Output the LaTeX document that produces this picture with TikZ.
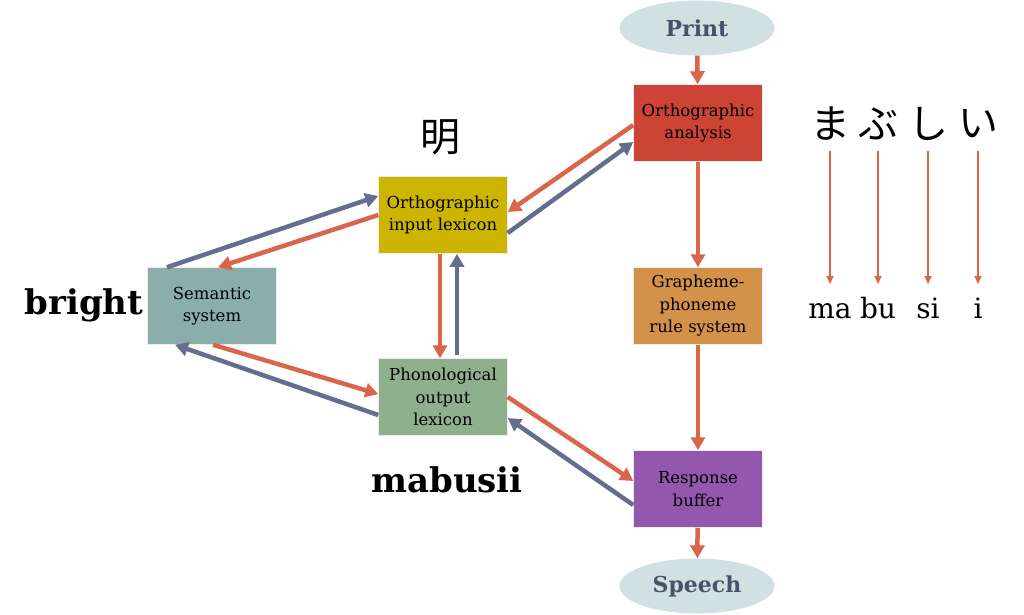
\documentclass[tikz,border=0pt]{standalone}
\usepackage{fontspec}
\setmainfont{DejaVu Serif}
\newfontfamily\jpfont{Noto Sans CJK JP}
\usepackage{xcolor}
\usetikzlibrary{shapes, positioning, arrows.meta}

\definecolor{flecharoja}{HTML}{D9654B}
\definecolor{flechaazul}{HTML}{656E8E}
\definecolor{rojoana}{HTML}{CB4435}
\definecolor{amarillo}{HTML}{CCB400}
\definecolor{verdeazul}{HTML}{8BAEAD}
\definecolor{naranja}{HTML}{D4914A}
\definecolor{verde}{HTML}{8EB08C}
\definecolor{morado}{HTML}{9457AE}
\definecolor{celeste}{HTML}{D1E0E1}
\definecolor{textoelipse}{HTML}{4A5068}

\tikzset{
  caja/.style={rectangle, minimum width=129pt, minimum height=77pt, inner sep=2pt,
    align=center, font=\fontsize{16.5}{22.5}\selectfont, draw=white!92!black, line width=0.5pt},
  elipse/.style={ellipse, fill=celeste, minimum width=155pt, minimum height=55pt,
    text=textoelipse, font=\fontsize{22}{26}\selectfont\bfseries},
  rojo/.style={draw=flecharoja, line width=4.5pt, -{Triangle[length=13pt,width=14pt]}},
  azul/.style={draw=flechaazul, line width=4.5pt, -{Triangle[length=13pt,width=14pt]}},
  fina/.style={draw=flecharoja, line width=1.3pt, -{Triangle[length=8pt,width=7pt]}},
  kana/.style={font=\jpfont\fontsize{40}{44}\selectfont},
  roma/.style={font=\fontsize{28}{32}\selectfont}
}

\begin{document}
\begin{tikzpicture}[x=1pt,y=-1pt]

\useasboundingbox (0,0) rectangle (1024,614);  % Marco de la imagen

% Entrada y salida
\node[elipse] (print) at (697,28) {Print};
\node[elipse] (speech) at (697,586) {Speech};

% Cajas del modelo
\node[caja, fill=rojoana] (oa) at (698,123) {Orthographic\\analysis};
\node[caja, fill=amarillo] (oil) at (443,215) {Orthographic\\input lexicon};
\node[caja, fill=verdeazul] (sem) at (212,306) {Semantic\\system};
\node[caja, fill=naranja] (gpc) at (698,306) {Grapheme-\\phoneme\\rule system};
\node[caja, fill=verde] (pol) at (443,397) {Phonological\\output\\lexicon};
\node[caja, fill=morado] (rb) at (698,489) {Response\\buffer};

% Ruta subléxica
\draw[rojo] (print) -- (oa);
\draw[rojo] (oa) -- (gpc);
\draw[rojo] (gpc) -- (rb);
\draw[rojo] (rb) -- (speech);

% Ruta léxica
\draw[rojo] ([yshift=-2pt]oa.west) -- ([yshift=3pt]oil.east);
\draw[azul] ([yshift=-18pt]oil.east) -- ([yshift=-19pt]oa.west);
\draw[rojo] (oil.west) -- ([xshift=6pt]sem.north);
\draw[azul] ([xshift=-45pt]sem.north) -- ([yshift=19pt]oil.west);
\draw[rojo] ([xshift=1pt]sem.south) -- ([yshift=3pt]pol.west);
\draw[azul] ([yshift=-18pt]pol.west) -- ([xshift=-37pt]sem.south);
\draw[rojo] ([xshift=-3pt]oil.south) -- ([xshift=-3pt]pol.north);
\draw[azul] ([xshift=14pt,yshift=3pt]pol.north) -- ([xshift=14pt]oil.south);
\draw[rojo] (pol.east) -- ([yshift=8pt]rb.west);
\draw[azul] ([yshift=-16pt]rb.west) -- ([yshift=-21pt]pol.east);

% Palabras de ejemplo
\node[font=\jpfont\fontsize{40}{44}\selectfont] (kanji) at (440,137) {明};
\node[font=\fontsize{34}{40}\selectfont\bfseries] (bright) at (84,305) {bright};
\node[font=\fontsize{34}{40}\selectfont\bfseries] (mabusii) at (447,480) {mabusii};

% Kana y lectura
\node[kana] (k1) at (830,124) {ま};
\node[kana] (k2) at (878,124) {ぶ};
\node[kana] (k3) at (928,124) {し};
\node[kana] (k4) at (978,124) {い};
\node[roma, anchor=base] (r1) at (830,318) {ma};
\node[roma, anchor=base] (r2) at (878,318) {bu};
\node[roma, anchor=base] (r3) at (928,318) {si};
\node[roma, anchor=base] (r4) at (978,318) {i};

\draw[fina] (830,151) -- (830,284);
\draw[fina] (878,151) -- (878,284);
\draw[fina] (928,151) -- (928,284);
\draw[fina] (978,151) -- (978,284);

\end{tikzpicture}
\end{document}
